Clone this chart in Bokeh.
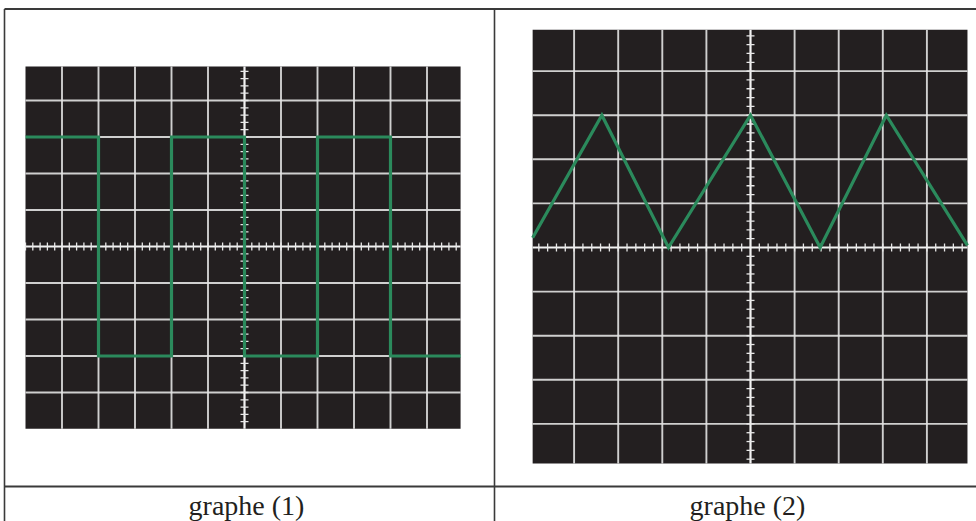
import numpy as np
from bokeh.plotting import figure
from bokeh.models import Range1d
from bokeh.embed import file_html
from bokeh.resources import INLINE
from bokeh.core.properties import value

# ---------------- data (oscilloscope divisions) ----------------
# graphe (1): square wave
sq_t = [-6.0, -4.0, -4.0, -2.0, -2.0, 0.0, 0.0, 2.0, 2.0, 4.0, 4.0, 5.92]
sq_v = [3.0, 3.0, -3.0, -3.0, 3.0, 3.0, -3.0, -3.0, 3.0, 3.0, -3.0, -3.0]
# graphe (2): triangle wave
tri_t = [-4.94, -3.37, -1.86, 0.0, 1.58, 3.08, 4.92]
tri_v = [0.22, 3.0, 0.0, 3.0, 0.0, 3.0, 0.05]
labels = ["graphe (1)", "graphe (2)"]

# ---------------- layout (page pixels) ----------------
PX0, PX1 = 0, 976
PY0, PY1 = 0, 521
TABLE_X = [4, 494, 1000]
TABLE_Y = [8.5, 486]

screens = [
    dict(name="s1", cx=244, cy=246, k=36.5, xlim=(-6.0, 5.92), ylim=(-4.99, 4.93), t=sq_t, v=sq_v),
    dict(name="s2", cx=750, cy=247, k=44.1, xlim=(-4.94, 4.92), ylim=(-4.90, 4.94), t=tri_t, v=tri_v),
]

SCREEN_BG = "#231f20"
GRID_COL = "#e2e2e2"
TRACE_COL = "#2b8a5c"
BORDER_COL = "#3a3a3a"

p = figure(width=PX1 - PX0, height=PY1 - PY0,
           x_range=Range1d(PX0, PX1), y_range=Range1d(PY1, PY0),
           output_backend="svg", toolbar_location=None,
           min_border=0, outline_line_color=None,
           background_fill_color="white", border_fill_color="white")
p.axis.visible = False
p.grid.visible = False

for s in screens:
    k, cx, cy = s["k"], s["cx"], s["cy"]
    xr, yr = s["name"] + "x", s["name"] + "y"
    p.extra_x_ranges[xr] = Range1d((PX0 - cx) / k, (PX1 - cx) / k)
    p.extra_y_ranges[yr] = Range1d((cy - PY1) / k, (cy - PY0) / k)
    kw = dict(x_range_name=xr, y_range_name=yr)
    x0, x1 = s["xlim"]
    y0, y1 = s["ylim"]
    p.quad(left=[x0], right=[x1], bottom=[y0], top=[y1],
           fill_color=SCREEN_BG, line_color=None, **kw)
    gx = [g for g in np.arange(np.ceil(x0), np.floor(x1) + 1) if x0 + 0.1 < g < x1 - 0.1 and g != 0]
    gy = [g for g in np.arange(np.ceil(y0), np.floor(y1) + 1) if y0 + 0.1 < g < y1 - 0.1 and g != 0]
    p.segment(x0=gx, y0=[y0] * len(gx), x1=gx, y1=[y1] * len(gx),
              line_color=GRID_COL, line_width=1.9, line_alpha=0.9, **kw)
    p.segment(x0=[x0] * len(gy), y0=gy, x1=[x1] * len(gy), y1=gy,
              line_color=GRID_COL, line_width=1.9, line_alpha=0.9, **kw)
    # central axes
    p.segment(x0=[0, x0], y0=[y0, 0], x1=[0, x1], y1=[y1, 0],
              line_color="#f2f2f2", line_width=2.2, **kw)
    # small graduations (0.2 div)
    tl = 4.0 / k
    tx = [t for t in np.arange(np.ceil(x0 * 5), np.floor(x1 * 5) + 1) / 5.0 if abs(t) > 1e-9]
    ty = [t for t in np.arange(np.ceil(y0 * 5), np.floor(y1 * 5) + 1) / 5.0 if abs(t) > 1e-9]
    p.segment(x0=tx, y0=[-tl] * len(tx), x1=tx, y1=[tl] * len(tx),
              line_color="#e8e8e8", line_width=1.3, **kw)
    p.segment(x0=[-tl] * len(ty), y0=ty, x1=[tl] * len(ty), y1=ty,
              line_color="#e8e8e8", line_width=1.3, **kw)
    # trace
    p.line(s["t"], s["v"], line_color=TRACE_COL, line_width=3.2,
           line_join="miter", **kw)

# table lines
p.segment(x0=[TABLE_X[0]] * 2, y0=TABLE_Y, x1=[TABLE_X[-1]] * 2, y1=TABLE_Y,
          line_color=BORDER_COL, line_width=2)
p.segment(x0=TABLE_X, y0=[TABLE_Y[0]] * 3, x1=TABLE_X, y1=[PY1 + 20] * 3,
          line_color=BORDER_COL, line_width=1.6)

# labels
lx = [(TABLE_X[i] + TABLE_X[i + 1]) / 2 for i in range(2)]
p.text(x=lx, y=[505, 505], text=labels, text_align="center",
       text_baseline="middle", text_font=value("Liberation Serif"),
       text_font_size="28px", text_color="#231f20", x_offset=[-3, 0])

open("out.html", "w").write(file_html(p, INLINE))
